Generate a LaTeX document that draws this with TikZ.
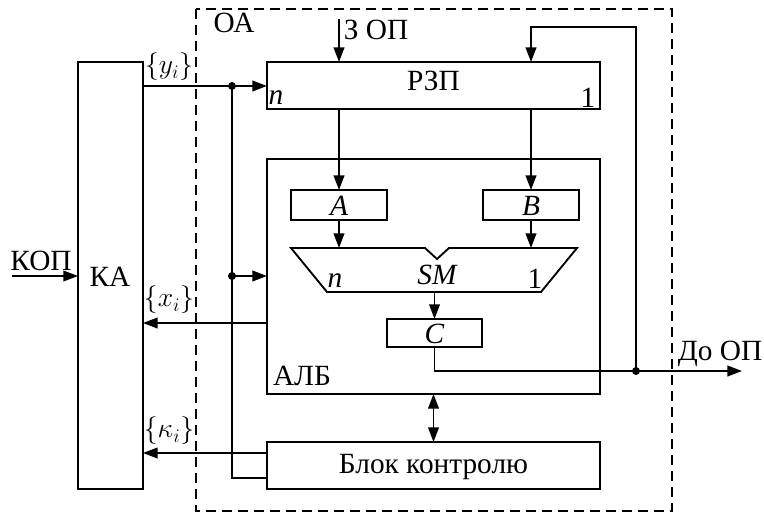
\documentclass[tikz,border=0pt]{standalone}
\usepackage{fontspec}
\setmainfont{Liberation Serif}
\usetikzlibrary{arrows.meta}
\begin{document}
\begin{tikzpicture}[x=0.75pt,y=-0.75pt,
  line width=1.4pt,
  box/.style={draw,rectangle,inner sep=0pt,outer sep=0pt},
  arr/.style={-{Triangle[length=11pt,width=8pt]}},
  darr/.style={{Triangle[length=11pt,width=8pt]}-{Triangle[length=11pt,width=8pt]}},
  lbl/.style={inner sep=0pt,font=\fontsize{22}{25}\selectfont},
  dot/.style={circle,fill,inner sep=0pt,minimum size=6pt}]
\useasboundingbox (0,0) rectangle (764,514);
% dashed OA boundary
\draw[dash pattern=on 7.5pt off 4.5pt] (196,9) rectangle (672,511);
\node[lbl] (oa) at (234,23) {ОА};
% boxes
\node[box,minimum width=48.75pt,minimum height=320.25pt] (ka) at (110.5,275.5) {};
\node[lbl] (kal) at (110,277) {КА};
\node[box,minimum width=249.75pt,minimum height=35.25pt] (rzp) at (433.5,85.5) {};
\node[lbl] (rzpl) at (433.5,81) {РЗП};
\node[lbl] (rn) at (276,98) {\itshape n};
\node[lbl] (r1) at (588,98) {1};
\node[box,minimum width=249.75pt,minimum height=176.25pt] (alb) at (433.5,276.5) {};
\node[lbl] (albl) at (302,376) {АЛБ};
\node[box,minimum width=72pt,minimum height=22.5pt] (a) at (339,205) {};
\node[lbl] (al) at (339,206) {\itshape A};
\node[box,minimum width=72pt,minimum height=22.5pt] (b) at (531,205) {};
\node[lbl] (bl) at (531,206) {\itshape B};
\node[box,minimum width=71.25pt,minimum height=21pt] (c) at (434.5,333) {};
\node[lbl] (cl) at (434.5,334) {\itshape C};
\node[box,minimum width=249.75pt,minimum height=35.25pt] (blk) at (433.5,465.5) {};
\node[lbl] (blkl) at (433.5,467) {Блок контролю};
% SM trapezoid
\draw (291,248) -- (425,248) -- (437,259) -- (449,248) -- (577,248) -- (541,292) -- (327,292) -- cycle;
\coordinate (smtop) at (437,248);
\coordinate (smbot) at (434.5,292);
\node[lbl] (sml) at (437,275) {\itshape SM};
\node[lbl] (smn) at (335,281) {\itshape n};
\node[lbl] (sm1) at (535,279) {1};
% internal connectors
\draw[arr] (rzp.south -| a.north) -- (a.north);
\draw[arr] (rzp.south -| b.north) -- (b.north);
\draw[arr] (a.south) -- (a.south |- smtop);
\draw[arr] (b.south) -- (b.south |- smtop);
\draw[arr] (smbot) -- (c.north);
\draw[darr] (alb.south) -- (blk.north);
% З ОП
\coordinate (zop) at (339,19);
\draw[arr] (zop) -- (zop |- rzp.north);
\node[lbl,anchor=west] (zopl) at (343,30) {З ОП};
% output and feedback
\coordinate (fb) at (636,371);
\coordinate (fbtop) at (636,27);
\coordinate (out) at (742,371);
\draw[arr] (c.south) |- (out);
\draw[arr] (fb) -- (fbtop) -| (rzp.north -| b.north);
\node[dot] (fbdot) at (fb) {};
\node[lbl] (dool) at (720,354) {До ОП};
% bus from KA
\coordinate (bt) at (232,86);
\coordinate (bm) at (232,276);
\coordinate (bb) at (232,478);
\draw[arr] (ka.east |- bt) -- (bt -| rzp.west);
\draw (bt) -- (bb) -- (bb -| blk.west);
\draw[arr] (bm) -- (bm -| alb.west);
\node[dot] (btdot) at (bt) {};
\node[dot] (bmdot) at (bm) {};
% feedback to KA
\coordinate (xi) at (267,323);
\coordinate (ki) at (267,453);
\draw[arr] (xi) -- (xi -| ka.east);
\draw[arr] (ki) -- (ki -| ka.east);
\node[lbl] (yil) at (169,67) {$\bigl\{y_i\bigr\}$};
\node[lbl] (xil) at (169,300) {$\bigl\{x_i\bigr\}$};
\node[lbl] (kil) at (169,431) {$\bigl\{\kappa_i\bigr\}$};
% KOP
\coordinate (kop) at (12,276);
\draw[arr] (kop) -- (kop -| ka.west);
\node[lbl] (kopl) at (41,261) {КОП};
\end{tikzpicture}
\end{document}
